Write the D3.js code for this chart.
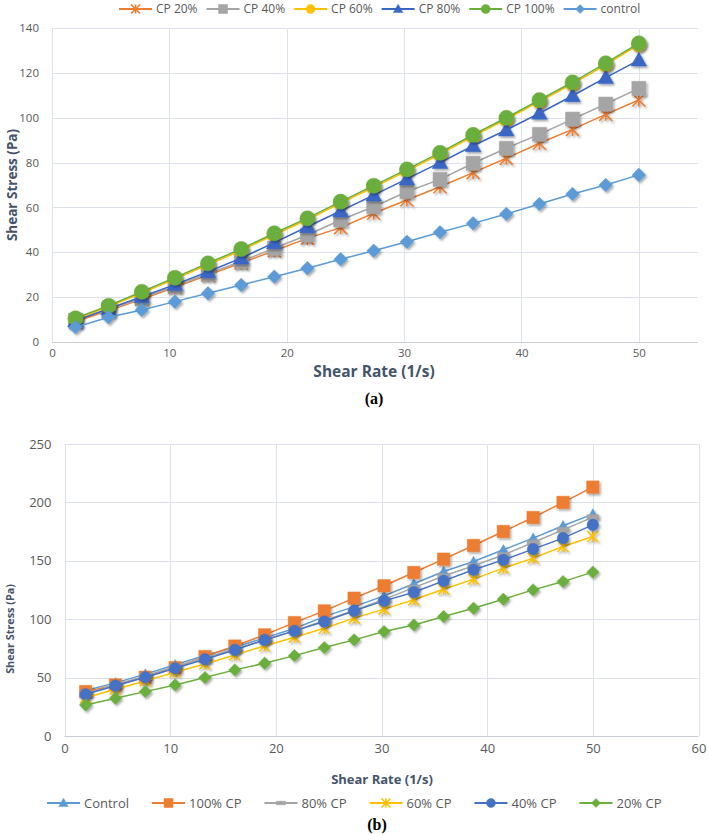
<!DOCTYPE html>
<html><head><meta charset="utf-8">
<script src="https://cdn.jsdelivr.net/npm/d3@7"></script>
<style>
html,body{margin:0;padding:0;background:#fff;}
svg{display:block;font-family:"Open Sans",sans-serif;}
</style></head>
<body>
<svg id="c" width="708" height="834"></svg>
<script>
// ---------- DATA ----------
const shearRate = [2, 4.82, 7.65, 10.47, 13.29, 16.12, 18.94, 21.76, 24.59, 27.41, 30.24, 33.06, 35.88, 38.71, 41.53, 44.35, 47.18, 50];

// Chart (a)
const seriesNamesA = ["CP 20%", "CP 40%", "CP 60%", "CP 80%", "CP 100%", "control"];
const cp20a   = [9.0, 14.0, 19.0, 24.4, 29.8, 35.2, 40.7, 46.2, 51.0, 57.4, 63.3, 69.2, 75.5, 81.9, 88.6, 94.8, 101.5, 107.9];
const cp40a   = [9.8, 14.6, 19.6, 25.0, 30.4, 36.0, 41.8, 47.7, 54.4, 60.3, 67.0, 72.5, 79.7, 86.4, 92.6, 99.4, 106.1, 113.1];
const cp60a   = [10.2, 15.7, 21.8, 28.1, 34.4, 40.8, 47.8, 54.5, 61.9, 69.0, 76.3, 83.7, 91.7, 99.3, 107.2, 115.1, 123.6, 132.6];
const cp80a   = [9.5, 14.8, 20.2, 25.6, 31.3, 37.4, 44.3, 51.4, 58.4, 65.5, 72.7, 80.0, 87.5, 94.5, 102.0, 109.8, 117.9, 125.7];
const cp100a  = [10.6, 16.2, 22.4, 28.7, 35.1, 41.5, 48.5, 55.2, 62.6, 69.7, 77.0, 84.4, 92.4, 100.0, 107.9, 115.8, 124.3, 133.2];
const controlA = [6.6, 11.0, 14.3, 18.0, 21.7, 25.4, 29.1, 32.9, 36.9, 40.7, 44.7, 48.9, 52.9, 57.1, 61.5, 66.0, 70.0, 74.5];
const yTicksA = [0, 20, 40, 60, 80, 100, 120, 140];
const xTicksA = [0, 10, 20, 30, 40, 50];

// Chart (b)
const seriesNamesB = ["Control", "100% CP", "80% CP", "60% CP", "40% CP", "20% CP"];
const controlB = [39, 45.5, 53, 61, 69, 76, 84, 92, 102.2, 110.8, 120, 130.3, 140.8, 149.4, 159.4, 169.4, 180, 190];
const cp100b   = [38, 43.7, 50.3, 58.5, 68, 77, 86.6, 97.1, 107.1, 118, 128.6, 140, 151.4, 163.1, 175.1, 187.1, 200, 213.1];
const cp80b    = [36, 44, 51.5, 59.5, 67, 74.5, 82, 90, 99, 107.5, 117, 127, 137, 145.7, 155, 165.7, 176.5, 187.4];
const cp60b    = [32.8, 40, 47.1, 54.6, 61.7, 69.4, 77.1, 84.6, 92.3, 100.9, 108.6, 116.6, 125.7, 134.3, 143.7, 152.3, 162.2, 170.8];
const cp40b    = [35.7, 43.1, 50.3, 58, 65.7, 73.7, 82.3, 90, 98, 107.1, 115.7, 123.1, 132.8, 142.3, 150.8, 160, 169.4, 180.8];
const cp20b    = [26.6, 32.3, 38, 43.7, 50, 56.6, 62.3, 68.8, 75.7, 82.3, 89.4, 95.1, 102.3, 109.4, 117.1, 125.1, 132.2, 140.3];
const yTicksB = [0, 50, 100, 150, 200, 250];
const xTicksB = [0, 10, 20, 30, 40, 50, 60];

// ---------- STYLE ----------
const svg = d3.select("#c");
const defs = svg.append("defs");
const f = defs.append("filter").attr("id","sh").attr("x","-50%").attr("y","-50%").attr("width","200%").attr("height","200%");
f.append("feDropShadow").attr("dx",1.5).attr("dy",1.8).attr("stdDeviation",1.3).attr("flood-color","#000").attr("flood-opacity",0.35);

const GRID = "#dde2ea", TICK = "#595959", TITLE = "#44546A";

function markerPath(type, s) {
  switch (type) {
    case "circle": return d3.symbol(d3.symbolCircle, Math.PI*s*s)();
    case "square": return `M${-s},${-s}H${s}V${s}H${-s}Z`;
    case "triangle": return `M0,${-s*1.05}L${s*1.05},${s*0.8}L${-s*1.05},${s*0.8}Z`;
    case "diamond": return `M0,${-s}L${s},0L0,${s}L${-s},0Z`;
    case "dash": return `M${-s},${-s*0.4}H${s}V${s*0.4}H${-s}Z`;
    case "star": return `M${-s},${-s}L${s},${s}M${-s},${s}L${s},${-s}M0,${-s}L0,${s}`;
  }
}
function drawMarker(g, type, s, color, shadow) {
  const p = g.append("path").attr("d", markerPath(type, s));
  if (type === "star") p.attr("fill","none").attr("stroke",color).attr("stroke-width",1.6);
  else p.attr("fill",color).attr("stroke",color).attr("stroke-width",0.5);
  if (shadow) p.attr("filter","url(#sh)");
  return p;
}

function drawChart(cfg) {
  const x = d3.scaleLinear().domain(cfg.xDomain).range(cfg.xRange);
  const y = d3.scaleLinear().domain(cfg.yDomain).range(cfg.yRange);
  const g = svg.append("g");
  // horizontal gridlines
  g.append("g").selectAll("line").data(cfg.yTicks).join("line")
    .attr("x1", cfg.xRange[0]).attr("x2", cfg.xRange[1])
    .attr("y1", d => Math.round(y(d))+0.5).attr("y2", d => Math.round(y(d))+0.5)
    .attr("stroke", d => d===0 ? "#c8cdd6" : GRID).attr("stroke-width",1);
  // vertical gridlines
  g.append("g").selectAll("line").data(cfg.xTicks).join("line")
    .attr("x1", d => Math.round(x(d))+0.5).attr("x2", d => Math.round(x(d))+0.5)
    .attr("y1", cfg.yRange[0]).attr("y2", cfg.yRange[1])
    .attr("stroke", GRID).attr("stroke-width",1);
  // axes (labels only)
  const yAxis = d3.axisLeft(y).tickValues(cfg.yTicks).tickSize(0).tickPadding(cfg.yPad);
  const ya = g.append("g").attr("transform",`translate(${cfg.xRange[0]},0)`).call(yAxis);
  ya.select(".domain").remove();
  ya.selectAll("text").attr("fill",TICK).style("font-size",cfg.tickFont+"px").style("font-family","'Open Sans',sans-serif");
  const xAxis = d3.axisBottom(x).tickValues(cfg.xTicks).tickSize(0).tickPadding(cfg.xPad);
  const xa = g.append("g").attr("transform",`translate(0,${cfg.yRange[0]})`).call(xAxis);
  xa.select(".domain").remove();
  xa.selectAll("text").attr("fill",TICK).style("font-size",cfg.tickFont+"px").style("font-family","'Open Sans',sans-serif");
  // titles
  g.append("text").attr("x", cfg.xTitlePos[0]).attr("y", cfg.xTitlePos[1]).attr("text-anchor","middle")
    .attr("fill",TITLE).attr("font-weight","bold").style("font-size",cfg.xTitleFont+"px").text("Shear Rate (1/s)");
  g.append("text").attr("transform",`translate(${cfg.yTitlePos[0]},${cfg.yTitlePos[1]}) rotate(-90)`).attr("text-anchor","middle")
    .attr("fill",TITLE).attr("font-weight","bold").style("font-size",cfg.yTitleFont+"px").text("Shear Stress (Pa)");
  // series
  const line = d3.line().x(d => x(d[0])).y(d => y(d[1]));
  cfg.series.forEach(s => {
    const pts = shearRate.map((r,i) => [r, s.values[i]]);
    const sg = g.append("g");
    sg.append("path").attr("d", line(pts)).attr("fill","none").attr("stroke",s.color).attr("stroke-width",cfg.lineW);
    pts.forEach(p => {
      const mg = sg.append("g").attr("transform",`translate(${x(p[0])},${y(p[1])})`);
      drawMarker(mg, s.marker, s.size, s.color, true);
    });
  });
  // legend
  const lg = g.append("g");
  let cx = cfg.legendStart;
  cfg.series.forEach(s => {
    const it = lg.append("g");
    it.append("line").attr("x1",cx).attr("x2",cx+cfg.legLine).attr("y1",cfg.legendY).attr("y2",cfg.legendY)
      .attr("stroke",s.color).attr("stroke-width",1.8);
    const mg = it.append("g").attr("transform",`translate(${cx+cfg.legLine/2},${cfg.legendY})`);
    drawMarker(mg, s.marker, cfg.legMarker, s.color, false);
    const t = it.append("text").attr("x",cx+cfg.legLine+4).attr("y",cfg.legendY).attr("dy","0.35em")
      .attr("fill",TICK).style("font-size",cfg.legFont+"px").text(s.name);
    cx += cfg.legLine + 4 + t.node().getComputedTextLength() + cfg.legGap;
  });
}

const colors = {orange:"#ED7D31", gray:"#A5A5A5", gold:"#FFC000", blue:"#3A66C4", green:"#6AAE3C", lblue:"#5B9BD5", blue40:"#4472C4"};

drawChart({
  xDomain:[0,55], xRange:[52,697.5], yDomain:[0,140], yRange:[342,28],
  yTicks:yTicksA, xTicks:xTicksA, tickFont:11.5, yPad:13, xPad:7,
  xTitlePos:[374,377], xTitleFont:15.5, yTitlePos:[17,185], yTitleFont:13.5,
  lineW:1.5, legendStart:119, legendY:9, legMarker:4.5, legLine:33, legFont:12, legGap:9,
  series:[
    {name:seriesNamesA[0], values:cp20a, color:colors.orange, marker:"star", size:6.5},
    {name:seriesNamesA[1], values:cp40a, color:colors.gray, marker:"square", size:7},
    {name:seriesNamesA[2], values:cp60a, color:colors.gold, marker:"circle", size:7.3},
    {name:seriesNamesA[3], values:cp80a, color:colors.blue, marker:"triangle", size:7.5},
    {name:seriesNamesA[4], values:cp100a, color:colors.green, marker:"circle", size:7.5},
    {name:seriesNamesA[5], values:controlA, color:colors.lblue, marker:"diamond", size:6.8}
  ]
});

drawChart({
  xDomain:[0,60], xRange:[64.5,698.5], yDomain:[0,250], yRange:[736,444],
  yTicks:yTicksB, xTicks:xTicksB, tickFont:13, yPad:13, xPad:8,
  xTitlePos:[382,784], xTitleFont:13, yTitlePos:[14,629], yTitleFont:10.8,
  lineW:1.5, legendStart:47, legendY:803, legLine:33, legMarker:4.5, legFont:13, legGap:23,
  series:[
    {name:seriesNamesB[0], values:controlB, color:colors.lblue, marker:"triangle", size:5},
    {name:seriesNamesB[1], values:cp100b, color:colors.orange, marker:"square", size:6.2},
    {name:seriesNamesB[2], values:cp80b, color:colors.gray, marker:"dash", size:6},
    {name:seriesNamesB[3], values:cp60b, color:colors.gold, marker:"star", size:5.5},
    {name:seriesNamesB[4], values:cp40b, color:colors.blue40, marker:"circle", size:5.8},
    {name:seriesNamesB[5], values:cp20b, color:colors.green, marker:"diamond", size:6.2}
  ]
});

// sub-captions
svg.append("text").attr("x",374).attr("y",404).attr("text-anchor","middle")
  .style("font-family","'Liberation Serif',serif").style("font-weight","bold").style("font-size","16px").attr("fill","#000").text("(a)");
svg.append("text").attr("x",377).attr("y",830).attr("text-anchor","middle")
  .style("font-family","'Liberation Serif',serif").style("font-weight","bold").style("font-size","16px").attr("fill","#000").text("(b)");
</script>
</body></html>
